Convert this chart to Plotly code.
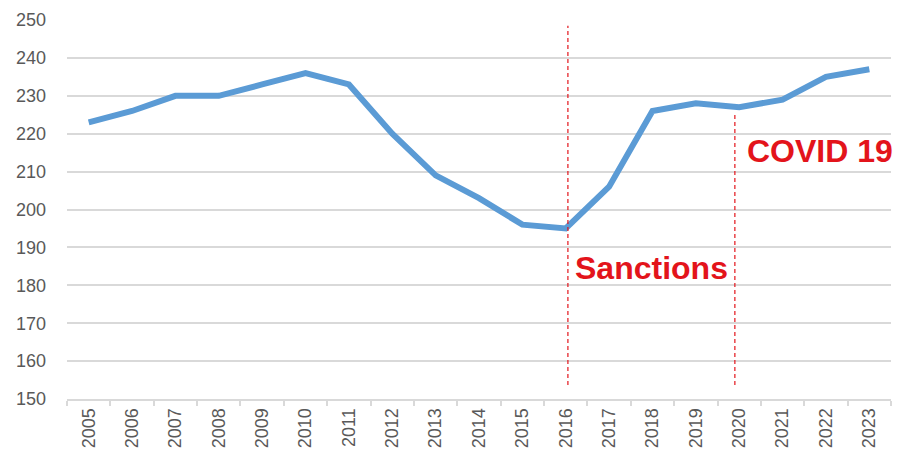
import plotly.graph_objects as go

years = [str(y) for y in range(2005, 2024)]
values = [223, 226, 230, 230, 233, 236, 233, 220, 209, 203, 196, 195, 206, 226, 228, 227, 229, 235, 237]

events = ["Sanctions", "COVID 19"]
event_years = ["2016", "2020"]
event_line_top = [248.5, 225.5]
event_label_y = [184.6, 215.4]

red = "#e3141b"
grid = "#d9d9d9"
tickfont = dict(family="Liberation Sans, Arial, sans-serif", size=18, color="#595959")
line_shift = {"2016": 0.05, "2020": -0.1}   # small styling offsets of the marker lines
label_shift = {"2016": 7, "2020": 6}

fig = go.Figure()
fig.add_trace(go.Scatter(
    x=years, y=values, mode="lines",
    line=dict(color="#5b9bd5", width=6),
    hoverinfo="x+y",
))

for name, yr, top, ly in zip(events, event_years, event_line_top, event_label_y):
    xi = years.index(yr)
    fig.add_shape(type="line", xref="x", yref="y", x0=xi + line_shift[yr], x1=xi + line_shift[yr],
                  y0=153.7, y1=top,
                  line=dict(color=red, width=1.2, dash="4px,3px"))
    fig.add_annotation(x=xi, y=ly, xref="x", yref="y", text="<b>%s</b>" % name,
                       showarrow=False, xanchor="left", yanchor="middle", xshift=label_shift[yr],
                       font=dict(family="Liberation Sans, Arial, sans-serif", size=32, color=red))

fig.update_layout(
    width=901, height=460,
    margin=dict(l=67, r=10, t=16, b=61),
    paper_bgcolor="white", plot_bgcolor="white",
    showlegend=False,
    xaxis=dict(type="category", range=[-0.5, len(years) - 0.5], tickangle=-90, tickfont=tickfont,
               showgrid=False, showline=True, linecolor=grid, linewidth=2,
               ticks="outside", tickson="boundaries", ticklen=5, tickcolor=grid, tickwidth=2,
               zeroline=False, fixedrange=True),
    yaxis=dict(range=[150, 250], dtick=10, tickfont=tickfont,
               showgrid=True, gridcolor=grid, gridwidth=2,
               zeroline=False, showline=False, ticks="", ticklabelstandoff=20,
               fixedrange=True),
)

fig.write_html("out.html")
